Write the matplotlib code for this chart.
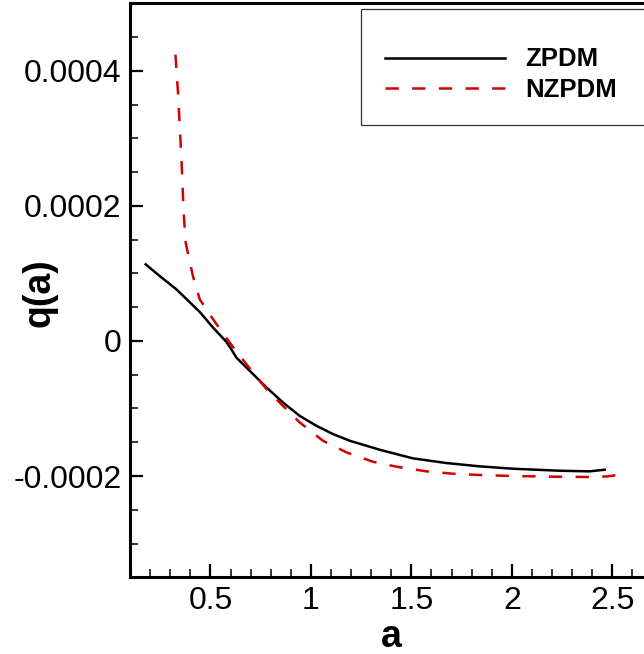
import matplotlib
matplotlib.use("Agg")
import matplotlib.pyplot as plt
from matplotlib.ticker import MultipleLocator, FuncFormatter
from matplotlib.patches import Rectangle

# values
a_zpdm = [0.178, 0.248, 0.331, 0.447, 0.513, 0.580, 0.604, 0.629, 0.696, 0.779,
          0.861, 0.944, 1.027, 1.110, 1.193, 1.276, 1.342, 1.508, 1.674, 1.840,
          2.005, 2.238, 2.387, 2.462]
q_zpdm = [1.134e-4, 0.961e-4, 0.764e-4, 0.429e-4, 0.198e-4, -0.015e-4, -0.123e-4,
          -0.246e-4, -0.443e-4, -0.689e-4, -0.911e-4, -1.109e-4, -1.256e-4,
          -1.379e-4, -1.478e-4, -1.552e-4, -1.611e-4, -1.739e-4, -1.808e-4,
          -1.857e-4, -1.892e-4, -1.922e-4, -1.931e-4, -1.907e-4]

a_nzpdm = [0.326, 0.339, 0.356, 0.367, 0.377, 0.413, 0.447, 0.513, 0.596, 0.679,
           0.779, 0.861, 0.944, 1.060, 1.177, 1.309, 1.425, 1.575, 1.707, 1.840,
           2.005, 2.204, 2.403, 2.478, 2.536]
q_nzpdm = [4.24e-4, 3.67e-4, 2.69e-4, 1.90e-4, 1.454e-4, 0.961e-4, 0.616e-4,
           0.321e-4, -0.024e-4, -0.344e-4, -0.714e-4, -0.961e-4, -1.206e-4,
           -1.478e-4, -1.65e-4, -1.789e-4, -1.862e-4, -1.931e-4, -1.966e-4,
           -1.985e-4, -2.0e-4, -2.01e-4, -2.015e-4, -2.005e-4, -1.98e-4]

labels = ["ZPDM", "NZPDM"]

plt.rcParams['font.family'] = ['Liberation Sans', 'DejaVu Sans']
plt.rcParams['lines.scale_dashes'] = False

W, H = 644, 654
fig = plt.figure(figsize=(W / 100, H / 100), dpi=100)
ax = fig.add_axes([130 / W, (H - 577.3) / H, 522.6 / W, 574 / H])

ax.plot(a_zpdm, q_zpdm, color='black', lw=1.8, label=labels[0])
ax.plot(a_nzpdm, q_nzpdm, color='#d40000', lw=1.8, dashes=(9.6, 9.6), label=labels[1])

ax.set_xlim(0.1, 2.7)
ax.set_ylim(-0.00035, 0.0005)

ax.xaxis.set_major_locator(MultipleLocator(0.5))
ax.xaxis.set_minor_locator(MultipleLocator(0.1))
ax.yaxis.set_major_locator(MultipleLocator(0.0002))
ax.yaxis.set_minor_locator(MultipleLocator(0.00005))
fmt = FuncFormatter(lambda v, p: '%g' % round(v, 8))
ax.xaxis.set_major_formatter(fmt)
ax.yaxis.set_major_formatter(fmt)

ax.tick_params(which='both', direction='in', top=False, right=False, labelsize=23)
ax.tick_params(which='major', length=9.5, width=1.6, pad=6)
ax.tick_params(which='minor', length=5.6, width=1.1)
for s in ax.spines.values():
    s.set_linewidth(2.2)

ax.set_xlabel('a', fontsize=27, fontweight='bold', va='baseline')
ax.xaxis.set_label_coords(0.5, (577.3 - 647) / 574)
ax.set_ylabel('q(a)', fontsize=27, fontweight='bold', va='center', ha='center')
ax.yaxis.set_label_coords((39 - 130) / 522.6, (577.3 - 292.5) / 574)

ax.legend(loc='upper left', bbox_to_anchor=(385 / W, 1 - 47.5 / H),
          bbox_transform=fig.transFigure, frameon=False, borderpad=0,
          borderaxespad=0, handlelength=4.67, handletextpad=0.78,
          labelspacing=0.25, prop={'size': 18.5, 'weight': 'bold'})
fig.patches.append(Rectangle((360.7 / W, 1 - 125 / H), 300 / W, (125 - 9.3) / H,
                             transform=fig.transFigure, fill=False,
                             edgecolor='#333333', lw=0.9))

fig.savefig('out.png', dpi=100)
